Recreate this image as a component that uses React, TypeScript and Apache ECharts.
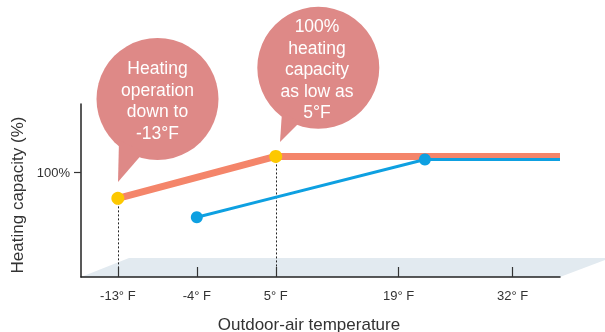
import React, { useEffect, useRef } from "react";
import * as echarts from "echarts";

const xTicks = [-13, -4, 5, 19, 32];
const yTicks = [100];
const orangeTemps = [-13, 5, 37.4];
const orangeCapacity = [75, 115, 115];
const blueTemps = [-4, 22, 37.4];
const blueCapacity = [57, 112, 112];
const dottedAt = [-13, 5];
const bubble1Lines = ["Heating", "operation", "down to", "-13°F"];
const bubble2Lines = ["100%", "heating", "capacity", "as low as", "5°F"];

const FONT = "'Liberation Sans', Arial, Helvetica, sans-serif";
const BUBBLE = "#de8987";

export default function App() {
  const ref = useRef<HTMLDivElement>(null);
  useEffect(() => {
    if (!ref.current) return;
    const chart = echarts.init(ref.current, null, { renderer: "svg" });
    const orangeData = orangeTemps.map((t, i) => ({
      value: [t, orangeCapacity[i]],
      symbol: i < 2 ? "circle" : "none",
    }));
    const blueData = blueTemps.map((t, i) => ({
      value: [t, blueCapacity[i]],
      symbol: i < 2 ? "circle" : "none",
    }));
    const dotted = dottedAt.map((t) => {
      const idx = orangeTemps.indexOf(t);
      return [{ coord: [t, orangeCapacity[idx]] }, { coord: [t, 0] }];
    });
    chart.setOption({
      animation: false,
      textStyle: { fontFamily: FONT },
      grid: { left: 81, right: 45, top: 104, bottom: 55 },
      xAxis: {
        type: "value",
        min: -17.2,
        max: 37.4,
        z: 3,
        splitLine: { show: false },
        axisLine: { onZero: false, lineStyle: { color: "#222", width: 1.5 } },
        axisTick: {
          customValues: xTicks,
          inside: true,
          length: 10,
          lineStyle: { color: "#333", width: 1.2 },
        },
        axisLabel: {
          customValues: xTicks,
          formatter: (v: number) => `${v}° F`,
          color: "#333",
          fontSize: 13,
          margin: 12,
          fontFamily: FONT,
        },
      },
      yAxis: {
        type: "value",
        min: 0,
        max: 165,
        z: 3,
        splitLine: { show: false },
        axisLine: {
          show: true,
          onZero: false,
          lineStyle: { color: "#222", width: 1.5 },
        },
        axisTick: {
          customValues: yTicks,
          length: 7,
          lineStyle: { color: "#333", width: 1.2 },
        },
        axisLabel: {
          customValues: yTicks,
          formatter: "{value}%",
          color: "#333",
          fontSize: 13,
          margin: 11,
          fontFamily: FONT,
        },
      },
      graphic: [
        {
          type: "polygon",
          z: -1,
          silent: true,
          shape: { points: [[81, 277], [129, 258], [610, 258], [560, 277]] },
          style: { fill: "#e2eaf0" },
        },
        {
          type: "text",
          x: 309,
          y: 324,
          style: {
            text: "Outdoor-air temperature",
            font: `17px ${FONT}`,
            fill: "#333",
            align: "center",
            verticalAlign: "middle",
          },
        },
        {
          type: "text",
          x: 17,
          y: 195,
          rotation: Math.PI / 2,
          style: {
            text: "Heating capacity (%)",
            font: `17px ${FONT}`,
            fill: "#333",
            align: "center",
            verticalAlign: "middle",
          },
        },
        {
          type: "circle",
          z: 100,
          shape: { cx: 157.5, cy: 99, r: 61 },
          style: { fill: BUBBLE },
        },
        {
          type: "polygon",
          z: 100,
          shape: { points: [[119, 140], [118, 182], [144, 152]] },
          style: { fill: BUBBLE },
        },
        {
          type: "text",
          z: 101,
          x: 157.5,
          y: 100.5,
          style: {
            text: bubble1Lines.join("\n"),
            font: `17.5px ${FONT}`,
            lineHeight: 21.5,
            fill: "#fff",
            align: "center",
            verticalAlign: "middle",
          },
        },
        {
          type: "circle",
          z: 100,
          shape: { cx: 318.3, cy: 67.8, r: 61 },
          style: { fill: BUBBLE },
        },
        {
          type: "polygon",
          z: 100,
          shape: { points: [[282, 112], [280, 142], [300, 122]] },
          style: { fill: BUBBLE },
        },
        {
          type: "text",
          z: 101,
          x: 317,
          y: 69,
          style: {
            text: bubble2Lines.join("\n"),
            font: `17.5px ${FONT}`,
            lineHeight: 21.5,
            fill: "#fff",
            align: "center",
            verticalAlign: "middle",
          },
        },
      ],
      series: [
        {
          type: "line",
          data: orangeData,
          symbolSize: 13,
          z: 2,
          lineStyle: { color: "#f4856a", width: 7 },
          itemStyle: { color: "#fdc800" },
          markLine: {
            silent: true,
            symbol: "none",
            z: 1,
            label: { show: false },
            lineStyle: { color: "#222", width: 1, type: [2, 2] },
            data: dotted,
          },
        },
        {
          type: "line",
          data: blueData,
          symbolSize: 12,
          z: 3,
          lineStyle: { color: "#0ea0e1", width: 3 },
          itemStyle: { color: "#0ea0e1" },
        },
      ],
    });
    return () => chart.dispose();
  }, []);
  return (
    <div
      ref={ref}
      style={{ position: "fixed", left: 0, top: 0, width: 605, height: 332 }}
    />
  );
}
